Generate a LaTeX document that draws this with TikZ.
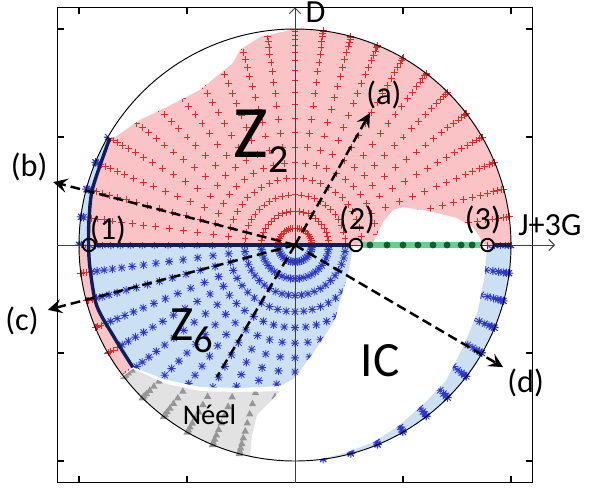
\documentclass[tikz,border=0pt]{standalone}
\usepackage{fontspec}
\setmainfont{Carlito}
\usepackage{tikz}
\usetikzlibrary{arrows.meta}

\definecolor{ztwofill}{RGB}{250,196,198}
\definecolor{zsixfill}{RGB}{204,224,244}
\definecolor{neelfill}{RGB}{226,226,226}
\definecolor{ztwomark}{RGB}{214,45,45}
\definecolor{zsixmark}{RGB}{45,55,205}
\definecolor{neelmark}{RGB}{150,150,150}
\definecolor{phasenavy}{RGB}{14,30,92}
\definecolor{icband}{RGB}{112,204,142}
\definecolor{icdot}{RGB}{22,92,46}

% phase regions (outer edge pushed past the circle, fills are clipped to it)
\newcommand{\regZtwoUp}{(-0.956,0) -- (0.282,0) -- (0.361,0.009) -- (0.407,0.106) -- (0.454,0.162) -- (0.5,0.176) -- (0.639,0.153) -- (0.75,0.125) -- (0.824,0.083) -- (0.856,0.037) -- (0.866,0.009) -- (0.889,0) -- (1.06,0) arc[start angle=0,end angle=91,radius=1.06] -- (-0.023,0.995) -- (-0.162,0.963) -- (-0.255,0.903) -- (-0.287,0.843) -- (-0.44,0.718) -- (-0.593,0.639) -- (-0.718,0.579) -- (-0.833,0.5) -- (150:0.99) -- (164:0.973) -- (172:0.962) -- cycle}
\newcommand{\regZtwoLow}{(180:0.956) -- (187:0.955) -- (197:0.96) -- (207:0.94) -- (217:0.94) -- (217:1.06) arc[start angle=217,end angle=180,radius=1.06] -- cycle}
\newcommand{\regZsixUp}{(150:0.99) -- (164:0.973) -- (172:0.962) -- (180:0.956) -- (180:1.06) arc[start angle=180,end angle=149,radius=1.06] -- cycle}
\newcommand{\regZsixLow}{(-0.956,0) -- (0.27,0) -- (0.245,-0.139) -- (0.222,-0.208) -- (0.185,-0.347) -- (0.093,-0.486) -- (0,-0.616) -- (-0.069,-0.653) -- (-0.255,-0.662) -- (-0.44,-0.657) -- (-0.593,-0.625) -- (217:0.94) -- (207:0.94) -- (197:0.96) -- (187:0.955) -- cycle}
\newcommand{\regZsixRight}{(0.889,0) -- (1.06,0) arc[start angle=0,end angle=-85,radius=1.06] -- (-84:1.0) -- (-76:0.99) -- (-68:0.982) -- (-60:0.965) -- (-50:0.945) -- (-42:0.94) -- (-31:0.91) -- (-20:0.9) -- (-10:0.89) -- cycle}
\newcommand{\regNeel}{(217.4:0.944) -- (-0.593,-0.644) -- (-0.44,-0.676) -- (-0.255,-0.681) -- (-0.069,-0.676) -- (-0.116,-0.727) -- (-0.176,-0.787) -- (-0.199,-0.88) -- (258:1.0) -- (258:1.06) arc[start angle=258,end angle=217.4,radius=1.06] -- cycle}

% markers
\newcommand{\plusmk}{+(-0.016,0) -- +(0.016,0) +(0,-0.016) -- +(0,0.016)}
\newcommand{\starmk}{+(-0.019,0) -- +(0.019,0) +(0,-0.019) -- +(0,0.019) +(-0.014,-0.014) -- +(0.014,0.014) +(-0.014,0.014) -- +(0.014,-0.014)}
\newcommand{\trimk}{++(0,0.018) -- ++(-0.017,-0.03) -- ++(0.034,0) -- cycle}

\tikzset{
  lbl/.style={font=\fontsize{17}{19}\selectfont, inner sep=0pt},
  ztwomk/.style={draw=ztwomark, line width=0.45pt},
  zsixmk/.style={draw=zsixmark, line width=0.45pt},
  neelmk/.style={fill=neelmark},
  plotframe/.style={draw=black, line width=0.6pt},
  axisline/.style={draw=black!75, line width=0.5pt, -{Straight Barb[length=3pt,width=6pt]}},
  rimline/.style={draw=black, line width=0.5pt},
  phaseline/.style={draw=phasenavy, line width=1.8pt},
  ptcirc/.style={circle, draw=black, line width=1pt, minimum size=6.6pt, inner sep=0pt},
  cutline/.style={draw=black, line width=1.3pt, dash pattern=on 5.2pt off 2.6pt},
  cutarrow/.style={cutline, -{Stealth[length=7.5pt,width=7.5pt,inset=3pt]}}
}

\begin{document}
\begin{tikzpicture}[scale=4]
\useasboundingbox (-1.3657,-1.1296) rectangle (1.3611,1.1343);

%%%%%%%%%%%%%%%%%%%%%%%% regions %%%%%%%%%%%%%%%%%%%%%%%%
\begin{scope}
\clip (0,0) circle (1);
\fill[ztwofill] \regZtwoUp;
\fill[ztwofill] \regZtwoLow;
\fill[zsixfill] \regZsixLow;
\fill[zsixfill] \regZsixUp;
\fill[zsixfill] \regZsixRight;
\fill[neelfill] \regNeel;
\end{scope}

%%%%%%%%%%%%%%%%%%%%%%%% grid points %%%%%%%%%%%%%%%%%%%%%%%%
\begin{scope}
\clip \regZtwoUp;
\draw[ztwomk] \foreach \j in {0,...,24} {\foreach \k in {1,...,20} {({\j*7.5}:{sin(\k*4.5)}) \plusmk}};
\end{scope}
\begin{scope}
\clip \regZtwoLow;
\draw[ztwomk] \foreach \j in {24,...,29} {\foreach \k in {15,...,20} {({\j*7.5}:{sin(\k*4.5)}) \plusmk}};
\end{scope}
\begin{scope}
\clip \regZsixLow;
\draw[zsixmk] \foreach \j in {24,...,48} {\foreach \k in {1,...,20} {({\j*7.5}:{sin(\k*4.5)}) \starmk}};
\end{scope}
\begin{scope}
\clip \regZsixUp;
\draw[zsixmk] \foreach \j in {20,...,24} {\foreach \k in {18,...,20} {({\j*7.5}:{sin(\k*4.5)}) \starmk}};
\end{scope}
\begin{scope}
\clip \regZsixRight;
\draw[zsixmk] \foreach \j in {-12,...,0} {\foreach \k in {12,...,20} {({\j*7.5}:{sin(\k*4.5)}) \starmk}};
\end{scope}
\begin{scope}
\clip \regNeel;
\fill[neelmk] \foreach \j in {28,...,35} {\foreach \k in {9,...,20} {({\j*7.5}:{sin(\k*4.5)}) \trimk}};
\end{scope}

%%%%%%%%%%%%%%%%%%%%%%%% frame, rim, axes %%%%%%%%%%%%%%%%%%%%%%%%
\draw[rimline] (0,0) circle (1);
\draw[plotframe] (-1.1,-1.1) rectangle (1.1,1.1);
\foreach \v in {-1,-0.5,0.5,1} {
  \draw[plotframe] (\v,1.1) -- ++(0,-0.03); \draw[plotframe] (\v,-1.1) -- ++(0,0.03);
  \draw[plotframe] (-1.1,\v) -- ++(0.03,0); \draw[plotframe] (1.1,\v) -- ++(-0.03,0);
}
\coordinate (xa) at (-1.1,0); \coordinate (xb) at (1.204,0);
\coordinate (ya) at (0,-1.1); \coordinate (yb) at (0,1.1);
\draw[axisline] (xa) -- (xb);
\draw[axisline] (ya) -- (yb);
\node[lbl] (dlab) at (0.095,1.08) {D};
\node[lbl] (jlab) at (1.18,0.093) {J+3G};

%%%%%%%%%%%%%%%%%%%%%%%% transition lines %%%%%%%%%%%%%%%%%%%%%%%%
\draw[phaseline, line join=round] plot[smooth] coordinates {(150:0.99) (164:0.973) (172:0.962) (180:0.956) (187:0.955) (197:0.96) (207:0.94) (217:0.94)};
\node[ptcirc] (p1) at (-0.954,0) {};
\node[ptcirc] (p2) at (0.282,0) {};
\node[ptcirc] (p3) at (0.891,0) {};
\coordinate (rimE) at (1,0);
\draw[phaseline] (p1) -- (p2);
\draw[phaseline] (p3) -- (rimE);
\draw[draw=icband, line width=3.2pt] (p2) -- (p3);
\foreach \x in {0.347,0.426,0.5,0.569,0.639,0.704,0.769,0.82}
  \fill[icdot] (\x,0) circle (0.016);
\node[lbl] (l1) at (-0.866,0.072) {(1)};
\node[lbl] (l2) at (0.287,0.118) {(2)};
\node[lbl] (l3) at (0.870,0.118) {(3)};

%%%%%%%%%%%%%%%%%%%%%%%% cuts %%%%%%%%%%%%%%%%%%%%%%%%
\coordinate (O) at (0,0);
\coordinate (ta) at (60.4:0.703);
\coordinate (tb) at (165.4:1.157);
\coordinate (tc) at (194.7:1.183);
\coordinate (td) at (-30.4:1.117);
\coordinate (te) at (239.4:0.71);
\draw[cutarrow] (O) -- (ta);
\draw[cutarrow] (O) -- (tb);
\draw[cutarrow] (O) -- (tc);
\draw[cutarrow] (O) -- (td);
\draw[cutline] (O) -- (te);
\node[lbl] (la) at (0.412,0.694) {(a)};
\node[lbl] (lb) at (-1.231,0.361) {(b)};
\node[lbl] (lc) at (-1.264,-0.352) {(c)};
\node[lbl] (ld) at (1.068,-0.639) {(d)};

%%%%%%%%%%%%%%%%%%%%%%%% phase names %%%%%%%%%%%%%%%%%%%%%%%%
\node[anchor=base west, inner sep=0pt, font=\fontsize{39}{40}\selectfont] (ztwo) at (-0.287,0.407) {Z\raisebox{-7.9pt}{\fontsize{21}{22}\selectfont 2}};
\node[anchor=base west, inner sep=0pt, font=\fontsize{26}{28}\selectfont] (zsix) at (-0.579,-0.44) {Z\raisebox{-6.3pt}{\fontsize{20}{22}\selectfont 6}};
\node[inner sep=0pt, font=\fontsize{26}{28}\selectfont] (ic) at (0.394,-0.537) {IC};
\node[anchor=base, inner sep=0pt, font=\fontsize{15}{17}\selectfont] (neel) at (-0.396,-0.833) {Néel};

\end{tikzpicture}
\end{document}
